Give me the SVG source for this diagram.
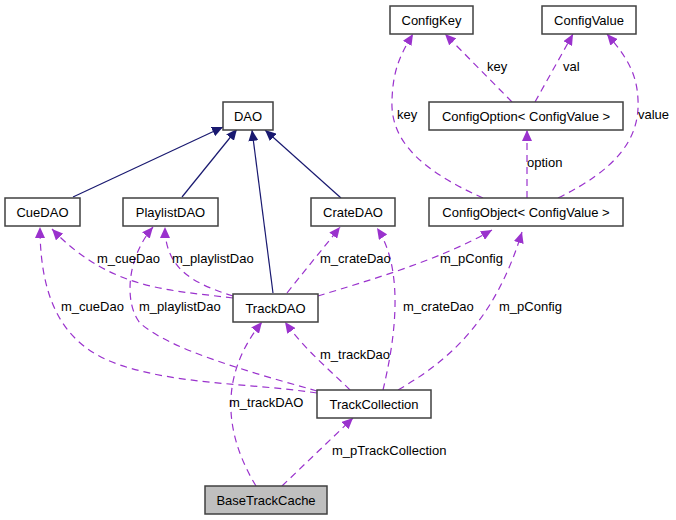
<svg xmlns="http://www.w3.org/2000/svg" width="676" height="520" viewBox="0 0 676 520">
<style>
text{font-family:"Liberation Sans",Arial,sans-serif;font-size:13px;fill:#000}
.n rect{fill:#fff;stroke:#404040;stroke-width:1.5}
.n text{text-anchor:middle}
.inh{fill:none;stroke:#191970;stroke-width:1.2;marker-end:url(#ai)}
.use{fill:none;stroke:#9a32cd;stroke-width:1.2;stroke-dasharray:7,5;marker-end:url(#au)}
</style>
<defs>
<marker id="ai" markerUnits="userSpaceOnUse" viewBox="0 0 11 10" refX="11" refY="5" markerWidth="11" markerHeight="10" orient="auto"><path d="M0,0 L11,5 L0,10 z" fill="#191970"/></marker>
<marker id="au" markerUnits="userSpaceOnUse" viewBox="0 0 11 10" refX="11" refY="5" markerWidth="11" markerHeight="10" orient="auto"><path d="M0,0 L11,5 L0,10 z" fill="#9a32cd"/></marker>
</defs>
<rect width="676" height="520" fill="#fff"/>
<g id="connectors">
<path class="inh" d="M73,197 L223,127"/>
<path class="inh" d="M182,197 L237,129"/>
<path class="inh" d="M273,293 L252,130"/>
<path class="inh" d="M341,198 L265,130"/>
<path class="use" d="M233,298 C170,290 110,290 52,229"/>
<path class="use" d="M233,296 C195,284 165,270 165,227"/>
<path class="use" d="M317,393 C250,383 180,385 120,365 C70,348 40,310 40,227"/>
<path class="use" d="M317,391 C250,372 170,350 140,323 C125,305 125,260 153,227"/>
<path class="use" d="M287,293 C305,270 322,250 340,227"/>
<path class="use" d="M318,296 C370,280 440,260 492,230"/>
<path class="use" d="M383,390 C395,340 405,270 377,228"/>
<path class="use" d="M398,390 C450,360 495,320 522,232"/>
<path class="use" d="M350,390 C330,370 305,350 285,322"/>
<path class="use" d="M256,486 C228,440 215,380 262,322"/>
<path class="use" d="M282,486 L353,418"/>
<path class="use" d="M512,102 L445,34"/>
<path class="use" d="M535,102 L573,34"/>
<path class="use" d="M483,198 C420,170 390,140 392,100 C393,70 400,55 413,34"/>
<path class="use" d="M558,198 C615,170 640,140 638,100 C637,72 625,55 607,34"/>
<path class="use" d="M527,198 L527,130"/>
<text x="97" y="263">m_cueDao</text>
<text x="172" y="263">m_playlistDao</text>
<text x="320" y="263">m_crateDao</text>
<text x="440" y="263">m_pConfig</text>
<text x="61" y="311">m_cueDao</text>
<text x="139" y="311">m_playlistDao</text>
<text x="403" y="311">m_crateDao</text>
<text x="499" y="311">m_pConfig</text>
<text x="320" y="359">m_trackDao</text>
<text x="229" y="407">m_trackDAO</text>
<text x="332" y="455">m_pTrackCollection</text>
<text x="487" y="71">key</text>
<text x="563" y="71">val</text>
<text x="397" y="119">key</text>
<text x="638" y="119">value</text>
<text x="527" y="167">option</text>
</g>
<g id="ConfigKey" class="n"><rect x="390" y="6" width="83" height="28"/><text x="431.5" y="24.5">ConfigKey</text></g>
<g id="ConfigValue" class="n"><rect x="542" y="6" width="94" height="28"/><text x="589" y="24.5">ConfigValue</text></g>
<g id="ConfigOption" class="n"><rect x="429" y="102" width="194" height="28"/><text x="526" y="120.5">ConfigOption&lt; ConfigValue &gt;</text></g>
<g id="ConfigObject" class="n"><rect x="429" y="198" width="194" height="28"/><text x="526" y="216.5">ConfigObject&lt; ConfigValue &gt;</text></g>
<g id="DAO" class="n"><rect x="223" y="102" width="50" height="28"/><text x="248" y="120.5">DAO</text></g>
<g id="CueDAO" class="n"><rect x="5" y="198" width="75" height="28"/><text x="42.5" y="216.5">CueDAO</text></g>
<g id="PlaylistDAO" class="n"><rect x="123" y="198" width="95" height="28"/><text x="170.5" y="216.5">PlaylistDAO</text></g>
<g id="CrateDAO" class="n"><rect x="311" y="198" width="84" height="28"/><text x="353" y="216.5">CrateDAO</text></g>
<g id="TrackDAO" class="n"><rect x="233" y="294" width="85" height="28"/><text x="275.5" y="312.5">TrackDAO</text></g>
<g id="TrackCollection" class="n"><rect x="317" y="390" width="114" height="28"/><text x="374" y="408.5">TrackCollection</text></g>
<g id="BaseTrackCache" class="n"><rect x="205" y="486" width="122" height="28" style="fill:#bfbfbf"/><text x="266" y="504.5">BaseTrackCache</text></g>
</svg>
